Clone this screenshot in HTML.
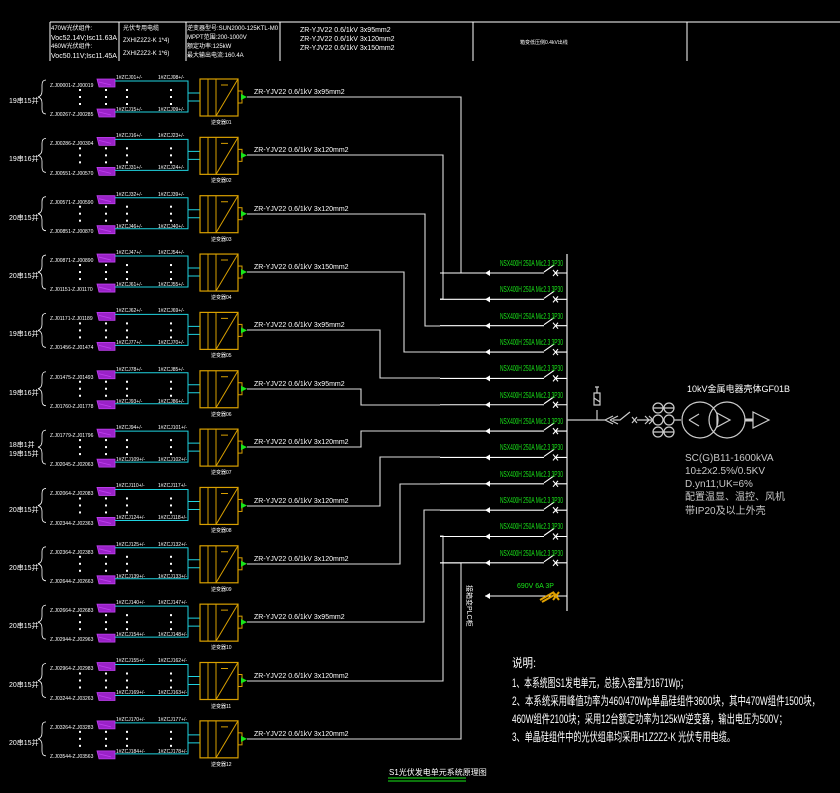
<!DOCTYPE html>
<html><head><meta charset="utf-8"><style>
html,body{margin:0;padding:0;background:#000;}
svg{display:block;}
text{font-family:"Liberation Sans","Noto Sans CJK SC",sans-serif;}
.w{fill:#fff;}
.s{font-size:6px;fill:#fff;}
.g{fill:#19e619;font-size:6.5px;}
.c{font-size:8px;fill:#fff;}
.gr{fill:#c8c8c8;font-size:10px;}
</style></head><body>
<svg width="840" height="793" viewBox="0 0 840 793" xmlns="http://www.w3.org/2000/svg">
<defs>
<g id="row">
  <path d="M46,80 q-4,0 -4,5 v6 q0,5 -4,6 q4,1 4,6 v6 q0,5 4,5" fill="none" stroke="#fff" stroke-width="0.8"/>
  <g fill="#fff">
    <rect x="79" y="89" width="2" height="2"/><rect x="79" y="96" width="2" height="2"/><rect x="79" y="103" width="2" height="2"/>
    <rect x="105" y="89" width="2" height="2"/><rect x="105" y="96" width="2" height="2"/><rect x="105" y="103" width="2" height="2"/>
    <rect x="126" y="89" width="2" height="2"/><rect x="126" y="96" width="2" height="2"/><rect x="126" y="103" width="2" height="2"/>
    <rect x="170" y="89" width="2" height="2"/><rect x="170" y="96" width="2" height="2"/><rect x="170" y="103" width="2" height="2"/>
  </g>
  <path d="M97,79 h18 v8 h-16 z M99,82 l12,3 M97,109 h18 v8 h-16 z M99,112 l12,3" fill="#9a22c8" stroke="#c040f0" stroke-width="0.8"/>
  <path d="M115,81 H188 V112 H115 M188,93 H200 M188,101 H200" fill="none" stroke="#1fd3e0" stroke-width="1"/>
  <rect x="200" y="79" width="38" height="37" fill="none" stroke="#d9a000" stroke-width="1.2"/>
  <path d="M208,79 V116 M216,79 V116 M216,116 L238,79 M221,85 H228" stroke="#d9a000" stroke-width="1" fill="none"/>
  <rect x="238" y="91" width="4" height="12" fill="none" stroke="#d9a000" stroke-width="1"/>
  <path d="M241,94 l6,3 l-6,3 z" fill="#19e619"/>
</g>
<g id="brk">
  <path d="M567,0 H556 M553,-3 l5,6 M558,-3 l-5,6 M554,-8 L544,-1 M544,0 H440" stroke="#fff" stroke-width="1.1" fill="none"/>
  <path d="M485,0 l5,-3 v6 z" fill="#fff"/>
</g>
</defs>

<!-- header -->
<g stroke="#fff" stroke-width="1" fill="none">
<path d="M50,22 H840 M50,22 V61 M119,22 V61 M186,22 V61 M280,22 V61 M473,22 V61 M687,22 V61"/>
</g>
<text x="51" y="30" class="s">470W光伏组件:</text>
<text x="51" y="40" class="c" style="font-size:7px" textLength="66" lengthAdjust="spacingAndGlyphs">Voc52.14V;Isc11.63A</text>
<text x="51" y="48" class="s">460W光伏组件:</text>
<text x="51" y="58" class="c" style="font-size:7px" textLength="66" lengthAdjust="spacingAndGlyphs">Voc50.11V;Isc11.45A</text>
<text x="123" y="30" class="s">光伏专用电缆</text>
<text x="123" y="42" class="s">ZXHIZ2Z2-K 1*4)</text>
<text x="123" y="55" class="s">ZXHIZ2Z2-K 1*6)</text>
<text x="187" y="30" class="s">逆变器型号:SUN2000-125KTL-M0</text>
<text x="187" y="39" class="s">MPPT范围:200-1000V</text>
<text x="187" y="48" class="s">额定功率:125kW</text>
<text x="187" y="57" class="s">最大输出电流:160.4A</text>
<text x="300" y="32" class="c" style="font-size:7px">ZR-YJV22 0.6/1kV 3x95mm2</text>
<text x="300" y="41" class="c" style="font-size:7px">ZR-YJV22 0.6/1kV 3x120mm2</text>
<text x="300" y="50" class="c" style="font-size:7px">ZR-YJV22 0.6/1kV 3x150mm2</text>
<text x="520" y="44" class="s" style="font-size:5px">箱变低压侧0.4kV出线</text>

<!-- rows -->
<use href="#row" transform="translate(0,0)"/>
<use href="#row" transform="translate(0,58.35)"/>
<use href="#row" transform="translate(0,116.7)"/>
<use href="#row" transform="translate(0,175.05)"/>
<use href="#row" transform="translate(0,233.4)"/>
<use href="#row" transform="translate(0,291.75)"/>
<use href="#row" transform="translate(0,350.1)"/>
<use href="#row" transform="translate(0,408.45)"/>
<use href="#row" transform="translate(0,466.8)"/>
<use href="#row" transform="translate(0,525.15)"/>
<use href="#row" transform="translate(0,583.5)"/>
<use href="#row" transform="translate(0,641.85)"/>

<!-- left labels -->
<g class="s" style="font-size:7px">
<text x="9" y="103">19串15并</text>
<text x="9" y="161">19串16并</text>
<text x="9" y="220">20串15并</text>
<text x="9" y="278">20串15并</text>
<text x="9" y="336">19串16并</text>
<text x="9" y="395">19串16并</text>
<text x="9" y="447">18串1并</text>
<text x="9" y="456">19串15并</text>
<text x="9" y="512">20串15并</text>
<text x="9" y="570">20串15并</text>
<text x="9" y="628">20串15并</text>
<text x="9" y="687">20串15并</text>
<text x="9" y="745">20串15并</text>
</g>
<!-- string labels -->
<g class="s" style="font-size:5px">
<text x="50" y="87">Z.J00001-Z.J00019</text><text x="50" y="116">Z.J00267-Z.J00285</text>
<text x="50" y="145">Z.J00286-Z.J00304</text><text x="50" y="175">Z.J00551-Z.J00570</text>
<text x="50" y="204">Z.J00571-Z.J00590</text><text x="50" y="233">Z.J00851-Z.J00870</text>
<text x="50" y="262">Z.J00871-Z.J00890</text><text x="50" y="291">Z.J01151-Z.J01170</text>
<text x="50" y="320">Z.J01171-Z.J01189</text><text x="50" y="349">Z.J01456-Z.J01474</text>
<text x="50" y="379">Z.J01475-Z.J01493</text><text x="50" y="408">Z.J01760-Z.J01778</text>
<text x="50" y="437">Z.J01779-Z.J01796</text><text x="50" y="466">Z.J02045-Z.J02063</text>
<text x="50" y="495">Z.J02064-Z.J02083</text><text x="50" y="525">Z.J02344-Z.J02363</text>
<text x="50" y="554">Z.J02364-Z.J02383</text><text x="50" y="583">Z.J02644-Z.J02663</text>
<text x="50" y="612">Z.J02664-Z.J02683</text><text x="50" y="641">Z.J02944-Z.J02963</text>
<text x="50" y="670">Z.J02964-Z.J02983</text><text x="50" y="700">Z.J03244-Z.J03263</text>
<text x="50" y="729">Z.J03264-Z.J03283</text><text x="50" y="758">Z.J03544-Z.J03563</text>
</g>
<!-- combiner labels -->
<g class="s" style="font-size:5px">
<text x="116" y="79">1#ZCJ01+/-</text><text x="158" y="79">1#ZCJ08+/-</text><text x="116" y="111">1#ZCJ15+/-</text><text x="158" y="111">1#ZCJ09+/-</text>
<text x="116" y="137">1#ZCJ16+/-</text><text x="158" y="137">1#ZCJ23+/-</text><text x="116" y="169">1#ZCJ31+/-</text><text x="158" y="169">1#ZCJ24+/-</text>
<text x="116" y="196">1#ZCJ32+/-</text><text x="158" y="196">1#ZCJ39+/-</text><text x="116" y="228">1#ZCJ46+/-</text><text x="158" y="228">1#ZCJ40+/-</text>
<text x="116" y="254">1#ZCJ47+/-</text><text x="158" y="254">1#ZCJ54+/-</text><text x="116" y="286">1#ZCJ61+/-</text><text x="158" y="286">1#ZCJ55+/-</text>
<text x="116" y="312">1#ZCJ62+/-</text><text x="158" y="312">1#ZCJ69+/-</text><text x="116" y="344">1#ZCJ77+/-</text><text x="158" y="344">1#ZCJ70+/-</text>
<text x="116" y="371">1#ZCJ78+/-</text><text x="158" y="371">1#ZCJ85+/-</text><text x="116" y="403">1#ZCJ93+/-</text><text x="158" y="403">1#ZCJ86+/-</text>
<text x="116" y="429">1#ZCJ94+/-</text><text x="158" y="429">1#ZCJ101+/-</text><text x="116" y="461">1#ZCJ109+/-</text><text x="158" y="461">1#ZCJ102+/-</text>
<text x="116" y="487">1#ZCJ110+/-</text><text x="158" y="487">1#ZCJ117+/-</text><text x="116" y="519">1#ZCJ124+/-</text><text x="158" y="519">1#ZCJ118+/-</text>
<text x="116" y="546">1#ZCJ125+/-</text><text x="158" y="546">1#ZCJ132+/-</text><text x="116" y="578">1#ZCJ139+/-</text><text x="158" y="578">1#ZCJ133+/-</text>
<text x="116" y="604">1#ZCJ140+/-</text><text x="158" y="604">1#ZCJ147+/-</text><text x="116" y="636">1#ZCJ154+/-</text><text x="158" y="636">1#ZCJ148+/-</text>
<text x="116" y="662">1#ZCJ155+/-</text><text x="158" y="662">1#ZCJ162+/-</text><text x="116" y="694">1#ZCJ169+/-</text><text x="158" y="694">1#ZCJ163+/-</text>
<text x="116" y="721">1#ZCJ170+/-</text><text x="158" y="721">1#ZCJ177+/-</text><text x="116" y="753">1#ZCJ184+/-</text><text x="158" y="753">1#ZCJ178+/-</text>
</g>
<!-- inverter labels -->
<g class="s" style="font-size:5px">
<text x="211" y="124">逆变器01</text><text x="211" y="182">逆变器02</text><text x="211" y="241">逆变器03</text>
<text x="211" y="299">逆变器04</text><text x="211" y="357">逆变器05</text><text x="211" y="416">逆变器06</text>
<text x="211" y="474">逆变器07</text><text x="211" y="532">逆变器08</text><text x="211" y="591">逆变器09</text>
<text x="211" y="649">逆变器10</text><text x="211" y="708">逆变器11</text><text x="211" y="766">逆变器12</text>
</g>
<!-- cable labels -->
<g class="c" style="font-size:7px">
<text x="254" y="94">ZR-YJV22 0.6/1kV 3x95mm2</text>
<text x="254" y="152">ZR-YJV22 0.6/1kV 3x120mm2</text>
<text x="254" y="211">ZR-YJV22 0.6/1kV 3x120mm2</text>
<text x="254" y="269">ZR-YJV22 0.6/1kV 3x150mm2</text>
<text x="254" y="327">ZR-YJV22 0.6/1kV 3x95mm2</text>
<text x="254" y="386">ZR-YJV22 0.6/1kV 3x95mm2</text>
<text x="254" y="444">ZR-YJV22 0.6/1kV 3x120mm2</text>
<text x="254" y="503">ZR-YJV22 0.6/1kV 3x120mm2</text>
<text x="254" y="561">ZR-YJV22 0.6/1kV 3x120mm2</text>
<text x="254" y="619">ZR-YJV22 0.6/1kV 3x95mm2</text>
<text x="254" y="678">ZR-YJV22 0.6/1kV 3x120mm2</text>
<text x="254" y="736">ZR-YJV22 0.6/1kV 3x120mm2</text>
</g>
<!-- output routing -->
<g stroke="#ddd" stroke-width="1.1" fill="none">
<path d="M247,97 H461 V273 H440"/>
<path d="M247,155 H443 V299 H440"/>
<path d="M247,214 H425 V326 H440"/>
<path d="M247,272 H404 V352 H440"/>
<path d="M247,330 H380 V378 H440"/>
<path d="M247,389 H361 V405 H440"/>
<path d="M247,447 H361 V431 H440"/>
<path d="M247,506 H380 V457 H440"/>
<path d="M247,564 H400 V484 H440"/>
<path d="M247,622 H424 V510 H440"/>
<path d="M247,681 H443 V536 H440"/>
<path d="M247,739 H461 V563 H440"/>
<path d="M567,254 V611" stroke-width="1.3"/>
</g>
<!-- breakers -->
<use href="#brk" transform="translate(0,273)"/>
<use href="#brk" transform="translate(0,299.35)"/>
<use href="#brk" transform="translate(0,325.7)"/>
<use href="#brk" transform="translate(0,352.05)"/>
<use href="#brk" transform="translate(0,378.4)"/>
<use href="#brk" transform="translate(0,404.75)"/>
<use href="#brk" transform="translate(0,431.1)"/>
<use href="#brk" transform="translate(0,457.45)"/>
<use href="#brk" transform="translate(0,483.8)"/>
<use href="#brk" transform="translate(0,510.15)"/>
<use href="#brk" transform="translate(0,536.5)"/>
<use href="#brk" transform="translate(0,562.85)"/>
<g class="g" style="font-size:8px">
<text x="500" y="266" textLength="63" lengthAdjust="spacingAndGlyphs">NSX400H 250A Mic2.3 3P30</text>
<text x="500" y="292" textLength="63" lengthAdjust="spacingAndGlyphs">NSX400H 250A Mic2.3 3P30</text>
<text x="500" y="319" textLength="63" lengthAdjust="spacingAndGlyphs">NSX400H 250A Mic2.3 3P30</text>
<text x="500" y="345" textLength="63" lengthAdjust="spacingAndGlyphs">NSX400H 250A Mic2.3 3P30</text>
<text x="500" y="371" textLength="63" lengthAdjust="spacingAndGlyphs">NSX400H 250A Mic2.3 3P30</text>
<text x="500" y="398" textLength="63" lengthAdjust="spacingAndGlyphs">NSX400H 250A Mic2.3 3P30</text>
<text x="500" y="424" textLength="63" lengthAdjust="spacingAndGlyphs">NSX400H 250A Mic2.3 3P30</text>
<text x="500" y="450" textLength="63" lengthAdjust="spacingAndGlyphs">NSX400H 250A Mic2.3 3P30</text>
<text x="500" y="477" textLength="63" lengthAdjust="spacingAndGlyphs">NSX400H 250A Mic2.3 3P30</text>
<text x="500" y="503" textLength="63" lengthAdjust="spacingAndGlyphs">NSX400H 250A Mic2.3 3P30</text>
<text x="500" y="529" textLength="63" lengthAdjust="spacingAndGlyphs">NSX400H 250A Mic2.3 3P30</text>
<text x="500" y="556" textLength="63" lengthAdjust="spacingAndGlyphs">NSX400H 250A Mic2.3 3P30</text>
<text x="517" y="588" style="font-size:7px">690V 6A 3P</text>
</g>
<!-- fuse branch -->
<path d="M567,596 H485" stroke="#fff" stroke-width="1.1"/>
<path d="M485,596 l5,-3 v6 z" fill="#fff"/>
<path d="M540,600 l14,-8 M542,602 l14,-8 M553,592 l6,8 M559,592 l-6,8" stroke="#e0a000" stroke-width="2" fill="none"/>
<text x="0" y="0" class="s" style="font-size:7px" transform="translate(467,585) rotate(90)">接箱变PLC柜</text>

<!-- transformer section -->
<g stroke="#ccc" stroke-width="1.2" fill="none">
<path d="M567,420 H606 M597,420 V410 M594,393 h6 v12 h-6 z M597,393 v-6 M595,387 h4 M594,398 l6,4 M605,420 l8,-4 M605,420 l8,4 M610,420 l8,-4 M610,420 l8,4 M613,420 H620 L630,412 M632,417 l5,6 M637,417 l-5,6 M637,420 H652 M645,416 l4,4 l-4,4 M649,416 l4,4 l-4,4"/>
<circle cx="658" cy="408" r="5"/><circle cx="669" cy="408" r="5"/>
<circle cx="658" cy="420" r="5"/><circle cx="669" cy="420" r="5"/>
<circle cx="658" cy="432" r="5"/><circle cx="669" cy="432" r="5"/>
<path d="M653,408 h10 M664,408 h10 M653,432 h10 M664,432 h10 M674,420 H681"/>
<circle cx="700" cy="420" r="18"/><circle cx="727" cy="420" r="18"/>
<path d="M689,420 l10,-6 M689,420 l10,6 M717,413 l13,7 l-13,7 z"/>
<path d="M745,420 h8" stroke-width="3"/>
<path d="M753,412 l16,8 l-16,8 z"/>
</g>
<text x="687" y="392" class="w" style="font-size:9px">10kV金属电器壳体GF01B</text>
<g class="gr">
<text x="685" y="461">SC(G)B11-1600kVA</text>
<text x="685" y="474">10±2x2.5%/0.5KV</text>
<text x="685" y="487">D.yn11;UK=6%</text>
<text x="685" y="500">配置温显、温控、风机</text>
<text x="685" y="514">带IP20及以上外壳</text>
</g>

<!-- notes -->
<g class="w" style="font-size:12px">
<text x="512" y="667" textLength="24" lengthAdjust="spacingAndGlyphs">说明:</text>
<text x="512" y="687" textLength="176" lengthAdjust="spacingAndGlyphs">1、本系统图S1发电单元，总接入容量为1671Wp；</text>
<text x="512" y="705" textLength="308" lengthAdjust="spacingAndGlyphs">2、本系统采用峰值功率为460/470Wp单晶硅组件3600块，其中470W组件1500块，</text>
<text x="512" y="723" textLength="275" lengthAdjust="spacingAndGlyphs">460W组件2100块；采用12台额定功率为125kW逆变器，输出电压为500V；</text>
<text x="512" y="741" textLength="223" lengthAdjust="spacingAndGlyphs">3、单晶硅组件中的光伏组串均采用H1Z2Z2-K  光伏专用电缆。</text>
</g>
<text x="389" y="775" class="w" style="font-size:8px">S1光伏发电单元系统原理图</text>
<path d="M388,778 H466 M388,781 H466" stroke="#19e619" stroke-width="1"/>
</svg>
</body></html>
